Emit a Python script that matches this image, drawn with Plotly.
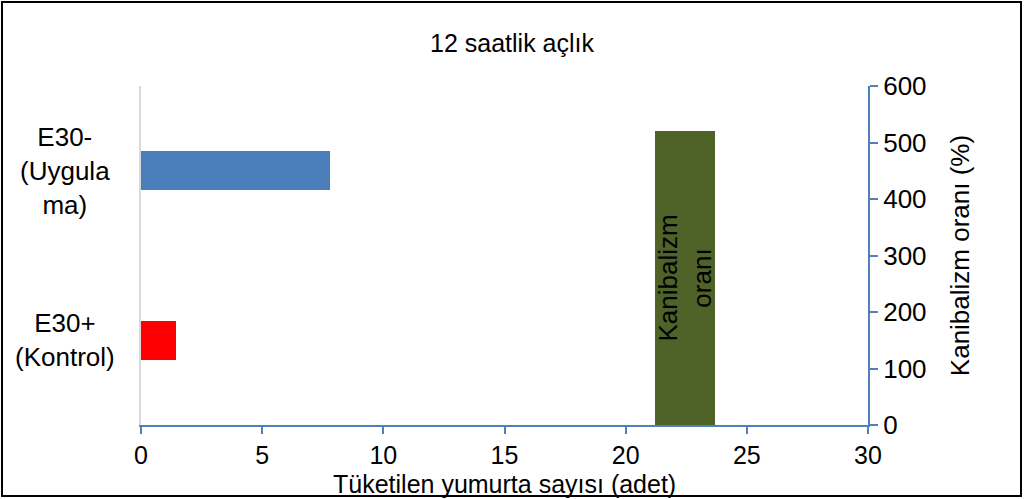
import plotly.graph_objects as go

categories = ["E30+ (Kontrol)", "E30- (Uygulama)"]
category_labels = ["E30+<br>(Kontrol)", "E30-<br>(Uygula<br>ma)"]
consumed_eggs = [1.45, 7.8]
bar_colors = ["#FF0000", "#4A7EBB"]

cannibal_x = [22.45]
cannibal_rate = [520]
cannibal_label = ["Kanibalizm<br>oranı"]

FONT = "Liberation Sans, Arial, sans-serif"
axis_blue = "#4F81BD"

fig = go.Figure()
fig.add_trace(go.Bar(
    y=categories, x=consumed_eggs, orientation="h",
    marker=dict(color=bar_colors, line=dict(width=0)),
    width=0.23, showlegend=False, hoverinfo="x+y",
))
fig.add_trace(go.Bar(
    x=cannibal_x, y=cannibal_rate, yaxis="y2",
    marker=dict(color="#4F6228", line=dict(width=0)),
    width=2.45, text=cannibal_label, textposition="inside",
    insidetextanchor="middle", textangle=-90, constraintext="none",
    textfont=dict(family=FONT, size=26, color="black"),
    showlegend=False,
))

W, H = 1024, 499
L, R, T, B = 141, 156, 86, 74
pw, ph = W - L - R, H - T - B

def px(xp):
    return (xp - L) / pw

def py(yp):
    return (H - B - yp) / ph

annotations = []
for cat, lab in zip(categories, category_labels):
    annotations.append(dict(
        x=px(65), y=cat, xref="paper", yref="y", text=lab, showarrow=False,
        xanchor="center", yanchor="middle", align="center",
        font=dict(family=FONT, size=26, color="black"),
    ))
annotations.append(dict(
    x=0.5, y=py(484), xref="paper", yref="paper",
    text="Tüketilen yumurta sayısı (adet)", showarrow=False,
    xanchor="center", yanchor="middle",
    font=dict(family=FONT, size=25, color="black"),
))

fig.update_layout(
    width=W, height=H,
    margin=dict(l=L, r=R, t=T, b=B, pad=0),
    paper_bgcolor="white", plot_bgcolor="white",
    font=dict(family=FONT, size=26, color="black"),
    title=dict(text="12 saatlik açlık", x=0.5, xanchor="center",
               y=1 - 43 / H, yanchor="middle",
               font=dict(family=FONT, size=25, color="black")),
    xaxis=dict(range=[0, 30], tickvals=[0, 5, 10, 15, 20, 25, 30],
               showgrid=False, zeroline=False,
               showline=True, linecolor=axis_blue, linewidth=2,
               ticks="outside", ticklen=7, tickcolor=axis_blue, tickwidth=2,
               tickfont=dict(family=FONT, size=25, color="black")),
    yaxis=dict(type="category", categoryorder="array", categoryarray=categories,
               range=[-0.5, 1.5], showticklabels=False, showgrid=False,
               zeroline=False, showline=True, linecolor="#D9D9D9", linewidth=2,
               ticks=""),
    yaxis2=dict(overlaying="y", side="right", anchor="x", range=[0, 600],
                tickvals=[0, 100, 200, 300, 400, 500, 600],
                showgrid=False, zeroline=False,
                showline=True, linecolor=axis_blue, linewidth=2,
                ticks="outside", ticklen=8, tickcolor=axis_blue, tickwidth=2,
                tickfont=dict(family=FONT, size=26, color="black"),
                title=dict(text="Kanibalizm oranı (%)", standoff=25,
                           font=dict(family=FONT, size=26, color="black"))),
    annotations=annotations,
    shapes=[dict(type="rect", xref="paper", yref="paper",
                 x0=px(2), x1=px(1021), y0=py(496), y1=py(2),
                 line=dict(color="black", width=2), fillcolor="rgba(0,0,0,0)",
                 layer="above")],
    bargap=0,
)

fig.write_html("out.html", config={"displayModeBar": False},
               post_script="document.body.style.margin='0';document.body.style.padding='0';")
